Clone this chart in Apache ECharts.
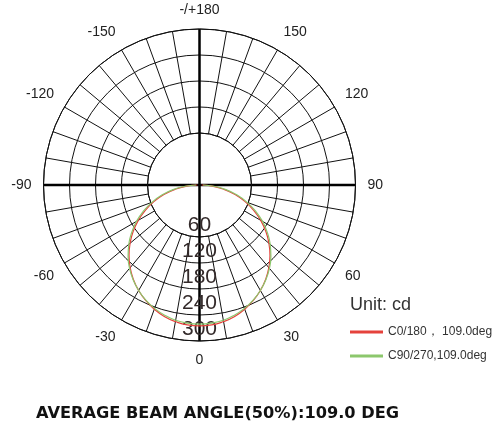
<!DOCTYPE html>
<html>
<head>
<meta charset="utf-8">
<script src="https://cdn.jsdelivr.net/npm/echarts@6/dist/echarts.min.js"></script>
<style>
  html, body { margin: 0; padding: 0; background: #fff; }
  #main { width: 497px; height: 425px; }
</style>
</head>
<body>
<div id="main"></div>
<script>
// 角度 (deg), 0 = 正下方
var angles = [-90, -85, -80, -75, -70, -65, -60, -55, -50, -45, -40, -35, -30, -25, -20, -15, -10, -5, 0,
  5, 10, 15, 20, 25, 30, 35, 40, 45, 50, 55, 60, 65, 70, 75, 80, 85, 90];
// C0/180 光强 (cd)
var c0Values = [5, 29, 57, 85, 112, 138, 163, 187, 209, 230, 249, 266, 281, 294, 305, 314, 320, 324, 325,
  324, 320, 314, 305, 294, 281, 266, 249, 230, 209, 187, 163, 138, 112, 85, 57, 29, 5];
// C90/270 光强 (cd)
var c90Values = [8, 33, 62, 90, 117, 143, 168, 191, 213, 233, 251, 267, 281, 293, 303, 311, 317, 320, 321,
  320, 317, 311, 303, 293, 281, 267, 251, 233, 213, 191, 168, 143, 117, 90, 62, 33, 8];
var ringLabels = [60, 120, 180, 240, 300];
var seriesNames = ['C0/180， 109.0deg', 'C90/270,109.0deg'];
var seriesColors = ['#e5423c', '#8cc76c'];
var unitText = 'Unit: cd';
var beamText = 'AVERAGE BEAM ANGLE(50%):109.0 DEG';

var chart = echarts.init(document.getElementById('main'));

//转换成 [r, angle]，负角度换成 0~360
function toPolarData(values) {
  return values.map(function (v, i) {
    return [v, (angles[i] + 360) % 360];
  });
}

var center = [199.5, 185];

var option = {
  animation: false,
  title: [{
    text: unitText,
    left: 350,
    top: 296,
    padding: 0,
    textStyle: { fontFamily: 'Liberation Sans', fontSize: 18, fontWeight: 'normal', color: '#333' }
  }, {
    text: beamText,
    left: 36,
    top: 406,
    padding: 0,
    textStyle: { fontFamily: 'DejaVu Sans', fontSize: 16.2, fontWeight: 'bold', color: '#111' }
  }],
  legend: {
    orient: 'vertical',
    left: 350,
    top: 326,
    padding: 0,
    icon: 'rect',
    itemWidth: 33,
    itemHeight: 3,
    itemGap: 12,
    textStyle: { fontFamily: 'Liberation Sans', fontSize: 12, color: '#333' },
    data: seriesNames
  },
  polar: [
    // 网格 (内圈空白)
    { center: center, radius: [52, 156] },
    // 数据 + 粗十字线
    { center: center, radius: [0, 156] }
  ],
  angleAxis: [{
    polarIndex: 0,
    type: 'value',
    min: -180,
    max: 180,
    interval: 10,
    startAngle: 90,
    clockwise: false,
    axisLine: { show: true, lineStyle: { color: '#111', width: 1 } },
    axisTick: { show: false },
    splitLine: { show: true, lineStyle: { color: '#111', width: 1 } },
    axisLabel: {
      margin: 12,
      fontFamily: 'Liberation Sans',
      fontSize: 14,
      color: '#222',
      formatter: function (v) {
        if (v % 30 !== 0) return '';
        if (v === -180 || v === 180) return '-/+180';
        return String(v);
      }
    }
  }, {
    polarIndex: 1,
    type: 'value',
    min: 0,
    max: 360,
    interval: 90,
    startAngle: 270,
    clockwise: false,
    axisLine: { show: false },
    axisTick: { show: false },
    axisLabel: { show: false },
    splitLine: { show: true, lineStyle: { color: '#000', width: 2.5 } }
  }],
  radiusAxis: [{
    polarIndex: 0,
    min: 120,
    max: 360,
    interval: 60,
    axisLine: { show: false },
    axisTick: { show: false },
    axisLabel: { show: false },
    splitLine: { show: true, lineStyle: { color: '#111', width: 1 } }
  }, {
    polarIndex: 1,
    min: 0,
    max: 360,
    interval: 60,
    axisLine: { show: false },
    axisTick: { show: false },
    splitLine: { show: false },
    axisLabel: {
      margin: 0,
      align: 'center',
      verticalAlign: 'top',
      padding: [4, 0, 0, 0],
      fontFamily: 'Liberation Sans',
      fontSize: 21,
      color: '#332a2a',
      formatter: function (v) {
        return ringLabels.indexOf(v) >= 0 ? String(v) : '';
      }
    }
  }],
  series: [{
    name: seriesNames[0],
    type: 'line',
    coordinateSystem: 'polar',
    polarIndex: 1,
    smooth: true,
    showSymbol: false,
    lineStyle: { width: 1.2, color: seriesColors[0] },
    itemStyle: { color: seriesColors[0] },
    data: toPolarData(c0Values)
  }, {
    name: seriesNames[1],
    type: 'line',
    coordinateSystem: 'polar',
    polarIndex: 1,
    smooth: true,
    showSymbol: false,
    lineStyle: { width: 1.2, color: seriesColors[1] },
    itemStyle: { color: seriesColors[1] },
    data: toPolarData(c90Values)
  }]
};

chart.setOption(option);
</script>
</body>
</html>
